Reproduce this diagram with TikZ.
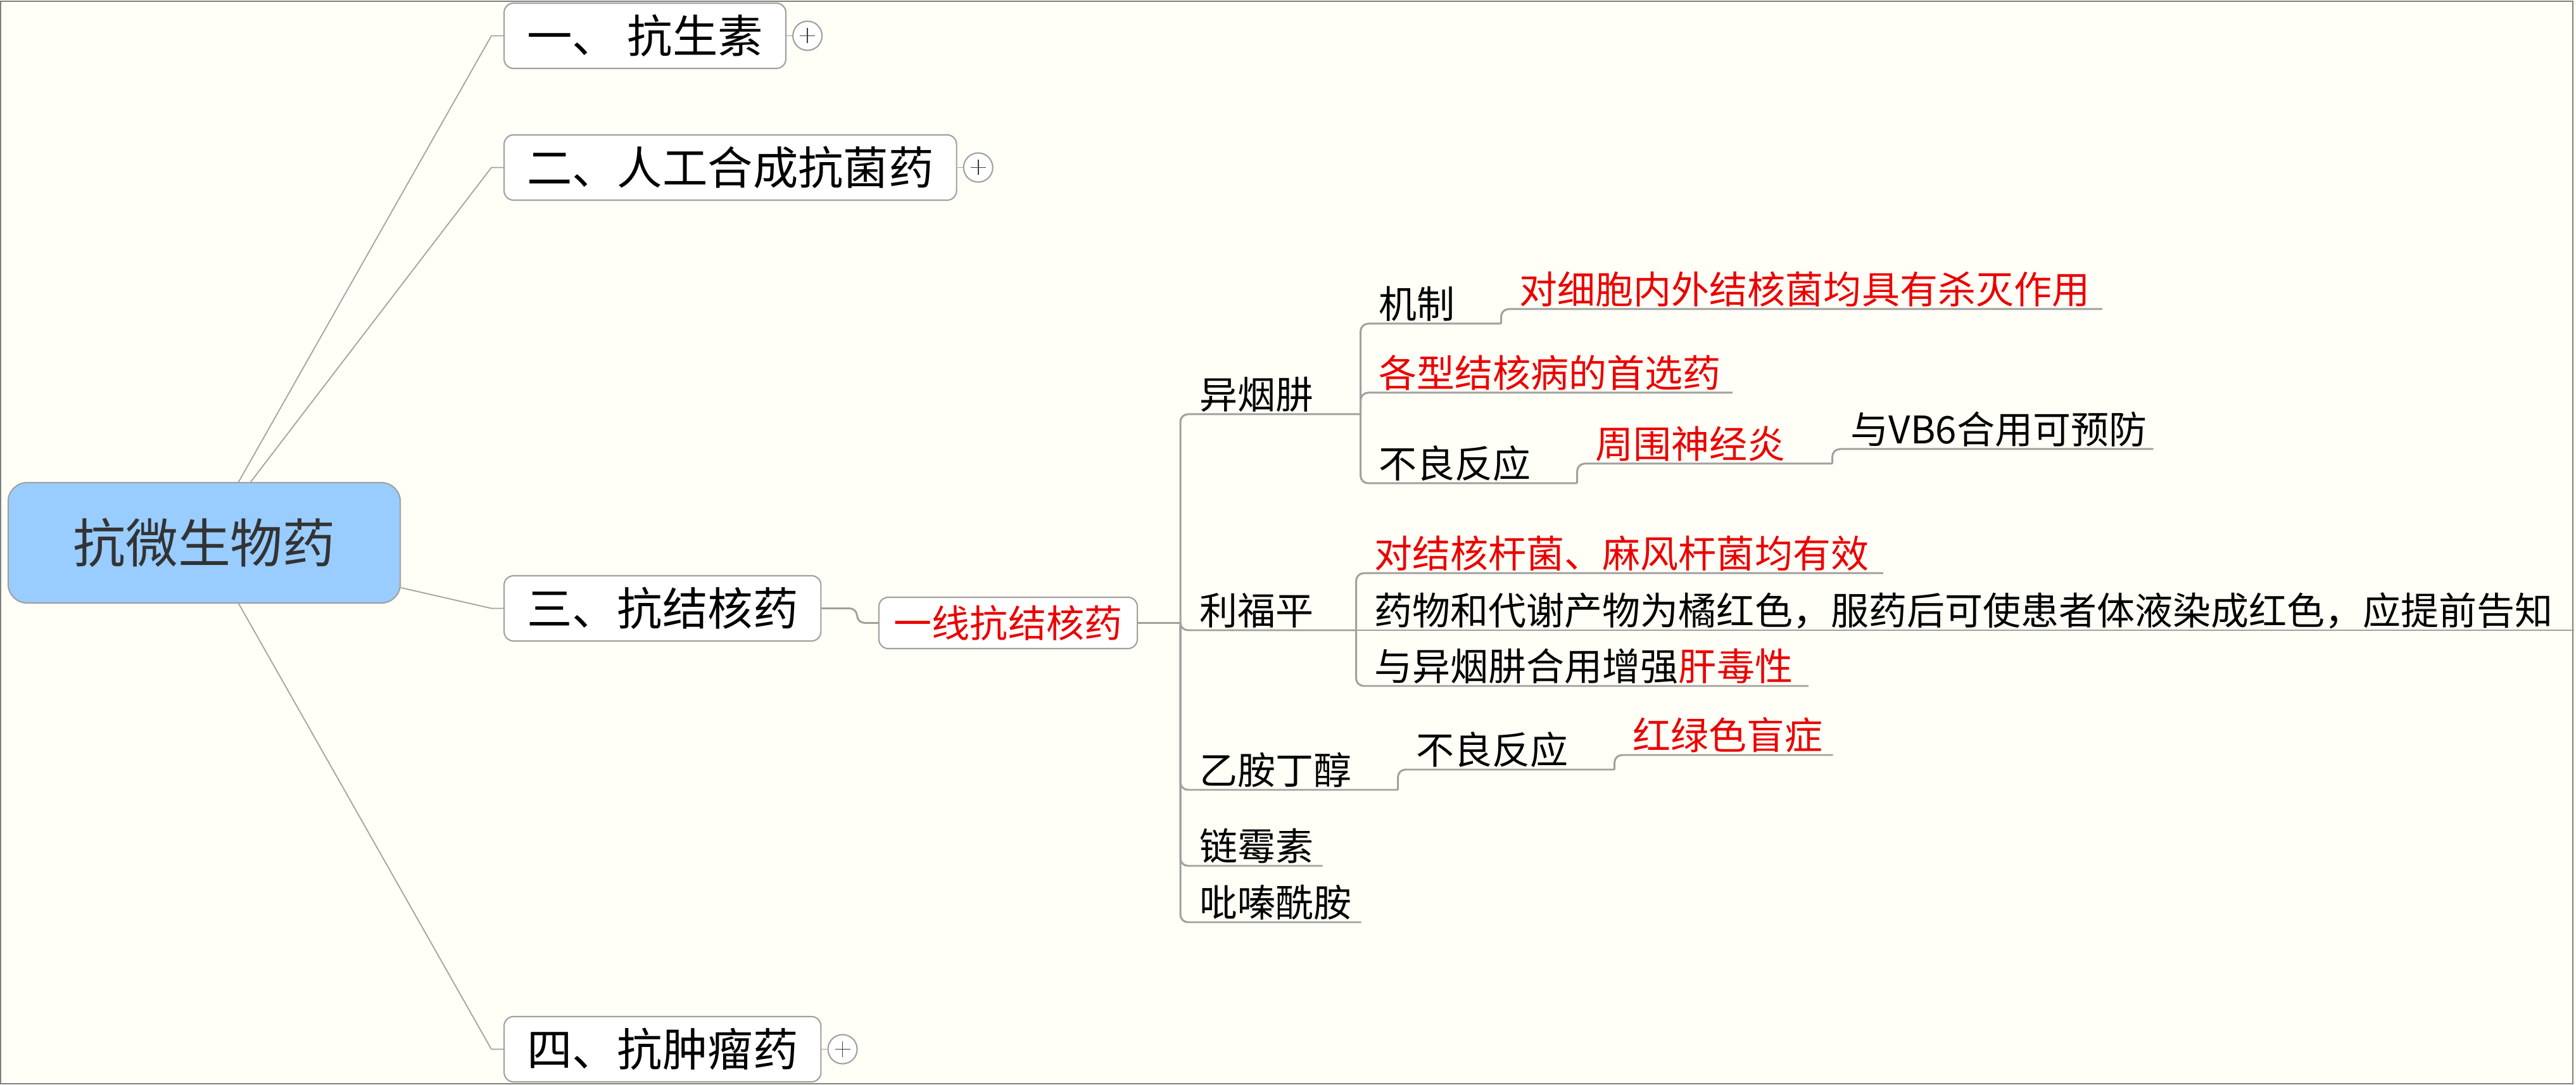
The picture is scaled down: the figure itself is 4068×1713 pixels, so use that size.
\documentclass[tikz,border=0pt]{standalone}
\usepackage{fontspec}
\newfontfamily\cjk{Noto Sans CJK SC}
\usetikzlibrary{calc,positioning}
\definecolor{paper}{RGB}{255,255,247}
\definecolor{rootblue}{RGB}{153,204,255}
\definecolor{roottext}{RGB}{51,51,51}
\definecolor{linegray}{RGB}{160,160,160}
\definecolor{framegray}{RGB}{128,128,128}
\definecolor{mapred}{RGB}{235,0,0}

\begin{document}
\begin{tikzpicture}[x=0.01cm, y=-0.01cm,
    root/.style={draw=linegray, line width=0.6pt, fill=rootblue, rounded corners=0.3cm, minimum width=6.19cm, minimum height=1.9cm, font=\cjk\fontsize{23.6}{28}\selectfont, text=roottext},
    topic/.style={draw=linegray, line width=0.6pt, fill=white, rounded corners=0.15cm, anchor=west, inner xsep=0.36cm, minimum height=1.03cm, font=\cjk\fontsize{20.3}{24}\selectfont},
    tag/.style={draw=linegray, line width=0.6pt, fill=white, rounded corners=0.15cm, inner xsep=0.24cm, minimum height=0.81cm, font=\cjk\fontsize{17.07}{20}\selectfont, text=mapred},
    fold/.style={circle, draw=linegray, line width=0.6pt, fill=white, minimum size=0.46cm, inner sep=0pt, right=0.09cm of #1,
        path picture={\draw[line width=0.5pt, black!75] ([xshift=-0.12cm]path picture bounding box.center) -- ([xshift=0.12cm]path picture bounding box.center) ([yshift=-0.12cm]path picture bounding box.center) -- ([yshift=0.12cm]path picture bounding box.center);}},
    sub/.style={anchor=south west, inner xsep=0pt, inner ysep=0.08cm, text depth=0pt, text width=#1, align=left, font=\cjk\fontsize{17.07}{20}\selectfont, execute at begin node={\noindent\hspace*{0.3cm}}},
    hot/.style={text=mapred},
    link/.style={draw=linegray, line width=0.5pt},
    branch/.style={draw=linegray, line width=0.85pt, rounded corners=0.12cm}]
    \fill[paper] (0,0) rectangle (4068,1713);
    \useasboundingbox (0,0) rectangle (4068,1713);
    \draw[framegray, line width=0.6pt] (1,2) rectangle (4063,1711);

    \node[root] (root) at (322.5,857) {抗微生物药};
    \node[topic] (t1) at (795,56.5) {一、 抗生素};
    \node[topic] (t2) at (795,264.5) {二、人工合成抗菌药};
    \node[topic] (t3) at (795,960.5) {三、抗结核药};
    \node[topic] (t4) at (795,1656.5) {四、抗肿瘤药};
    \node[fold=t1] (t1f) {};
    \node[fold=t2] (t2f) {};
    \node[fold=t4] (t4f) {};
    \draw[link] (root) -- ($(t1.west)+(-19,0)$) -- (t1.west);
    \draw[link] (root) -- ($(t2.west)+(-19,0)$) -- (t2.west);
    \draw[link] (root) -- ($(t3.west)+(-19,0)$) -- (t3.west);
    \draw[link] (root) -- ($(t4.west)+(-19,0)$) -- (t4.west);
    \draw[link] (t1) -- (t1f);
    \draw[link] (t2) -- (t2f);
    \draw[link] (t4) -- (t4f);

    \node[tag] (yx) at (1592,983.5) {一线抗结核药};
    \coordinate (yxj) at (1864,983.5);
    \draw[branch] (t3.east) -- ++(56,0) |- (yx.west);
    \draw[branch] (yx.east) -- (yxj);

    \node[sub=2.83cm] (yyj) at (1864,654) {异烟肼};
    \node[sub=2.22cm] (jz) at (2147,511) {机制};
    \node[sub=9.49cm, hot] (jzzy) at (2369,488) {对细胞内外结核菌均具有杀灭作用};
    \node[sub=5.87cm, hot] (sxy) at (2147,620) {各型结核病的首选药};
    \node[sub=3.42cm] (blfy) at (2147,763) {不良反应};
    \node[sub=4.03cm, hot] (zwsj) at (2489,732) {周围神经炎};
    \node[sub=5.07cm] (vbsix) at (2892,709) {与VB6合用可预防};
    \node[sub=2.76cm] (lfp) at (1864,995) {利福平};
    \node[sub=8.32cm, hot] (lfpa) at (2140,905) {对结核杆菌、麻风杆菌均有效};
    \node[sub=19.22cm] (lfpb) at (2140,995) {药物和代谢产物为橘红色，服药后可使患者体液染成红色，应提前告知};
    \node[sub=7.14cm] (lfpc) at (2140,1083) {与异烟肼合用增强\textcolor{mapred}{肝毒性}};
    \node[sub=3.42cm] (yadc) at (1864,1247) {乙胺丁醇};
    \node[sub=3.42cm] (blfyb) at (2206,1215) {不良反应};
    \node[sub=3.45cm, hot] (hlsm) at (2548,1192) {红绿色盲症};
    \node[sub=2.23cm] (lms) at (1864,1367) {链霉素};
    \node[sub=2.84cm] (pqxa) at (1864,1456) {吡嗪酰胺};

    \draw[branch] (yxj) |- (yyj.south east);
    \draw[branch] (yxj) |- (lfp.south east);
    \draw[branch] (yxj) |- (yadc.south east);
    \draw[branch] (yxj) |- (lms.south east);
    \draw[branch] (yxj) |- (pqxa.south east);
    \draw[branch] (yyj.south east) |- (jz.south east);
    \draw[branch] (yyj.south east) |- (sxy.south east);
    \draw[branch] (yyj.south east) |- (blfy.south east);
    \draw[branch] (jz.south east) |- (jzzy.south east);
    \draw[branch] (blfy.south east) |- (zwsj.south east);
    \draw[branch] (zwsj.south east) |- (vbsix.south east);
    \draw[branch] (lfp.south east) |- (lfpa.south east);
    \draw[branch] (lfp.south east) -- (lfpb.south east);
    \draw[branch] (lfp.south east) |- (lfpc.south east);
    \draw[branch] (yadc.south east) |- (blfyb.south east);
    \draw[branch] (blfyb.south east) |- (hlsm.south east);
\end{tikzpicture}
\end{document}
